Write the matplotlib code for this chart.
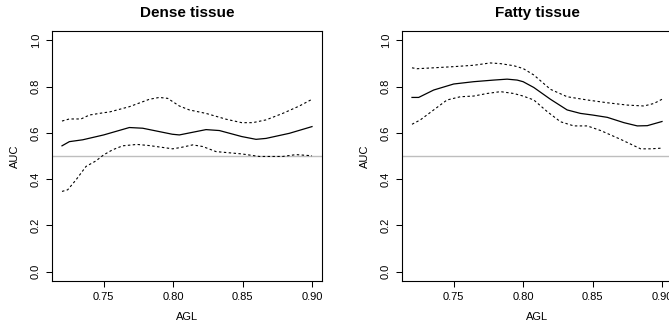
import matplotlib
matplotlib.use("Agg")
import matplotlib.pyplot as plt

plt.rcParams['font.family'] = ['Liberation Sans', 'DejaVu Sans']

# ---- Dense tissue ----
dense_x_mid = [0.72, 0.7253, 0.7349, 0.75, 0.7685, 0.7781, 0.7994, 0.8045, 0.8237, 0.8333,
               0.8494, 0.8597, 0.8669, 0.8837, 0.90]
dense_mid = [0.544, 0.562, 0.570, 0.591, 0.623, 0.620, 0.594, 0.591, 0.614, 0.610,
             0.584, 0.572, 0.576, 0.598, 0.627]
dense_x_up = [0.72, 0.7253, 0.7337, 0.7397, 0.75, 0.7541, 0.7685, 0.7829, 0.7901, 0.7961,
              0.8045, 0.8117, 0.8237, 0.8381, 0.8494, 0.8573, 0.8669, 0.8789, 0.8909, 0.90]
dense_up = [0.651, 0.660, 0.660, 0.677, 0.687, 0.690, 0.713, 0.745, 0.753, 0.749,
            0.716, 0.699, 0.684, 0.659, 0.644, 0.644, 0.656, 0.684, 0.716, 0.745]
dense_x_lo = [0.72, 0.7241, 0.7301, 0.7373, 0.7445, 0.75, 0.7565, 0.7637, 0.774, 0.7829,
              0.7997, 0.8057, 0.8141, 0.8213, 0.8309, 0.8494, 0.8621, 0.8789, 0.8885, 0.90]
dense_lo = [0.347, 0.354, 0.397, 0.455, 0.479, 0.505, 0.527, 0.544, 0.550, 0.545,
            0.531, 0.537, 0.548, 0.541, 0.519, 0.509, 0.498, 0.498, 0.506, 0.501]

# ---- Fatty tissue ----
fatty_x_mid = [0.72, 0.7248, 0.7356, 0.75, 0.7644, 0.7788, 0.7885, 0.7957, 0.80, 0.8077,
               0.8197, 0.8317, 0.8413, 0.85, 0.8606, 0.8726, 0.8822, 0.8894, 0.90]
fatty_mid = [0.753, 0.753, 0.785, 0.811, 0.821, 0.828, 0.832, 0.828, 0.821, 0.796,
             0.745, 0.699, 0.684, 0.677, 0.667, 0.644, 0.630, 0.631, 0.649]
fatty_x_up = [0.72, 0.7236, 0.7356, 0.75, 0.7644, 0.7764, 0.7837, 0.7933, 0.80, 0.8077,
              0.8197, 0.8317, 0.8462, 0.8606, 0.875, 0.887, 0.8942, 0.90]
fatty_up = [0.881, 0.877, 0.881, 0.886, 0.892, 0.902, 0.899, 0.890, 0.878, 0.850,
            0.788, 0.756, 0.742, 0.730, 0.720, 0.716, 0.727, 0.745]
fatty_x_lo = [0.72, 0.726, 0.7356, 0.7452, 0.7548, 0.7644, 0.774, 0.7837, 0.7933, 0.80,
              0.8077, 0.8173, 0.8269, 0.8365, 0.8462, 0.8558, 0.8702, 0.8846, 0.8918, 0.90]
fatty_lo = [0.637, 0.656, 0.699, 0.742, 0.756, 0.759, 0.770, 0.778, 0.770, 0.759,
            0.742, 0.692, 0.648, 0.630, 0.630, 0.610, 0.572, 0.531, 0.531, 0.534]

titles = ["Dense tissue", "Fatty tissue"]
xticks = [0.75, 0.80, 0.85, 0.90]
xtick_labels = ["0.75", "0.80", "0.85", "0.90"]
yticks = [0.0, 0.2, 0.4, 0.6, 0.8, 1.0]
ytick_labels = ["0.0", "0.2", "0.4", "0.6", "0.8", "1.0"]
ref_level = 0.5

W, H = 669, 324
fig = plt.figure(figsize=(W / 100, H / 100), dpi=100)

panels = [
    (52, (dense_x_mid, dense_mid), (dense_x_up, dense_up), (dense_x_lo, dense_lo)),
    (402, (fatty_x_mid, fatty_mid), (fatty_x_up, fatty_up), (fatty_x_lo, fatty_lo)),
]

for (left, mid, up, lo), title in zip(panels, titles):
    ax = fig.add_axes([left / W, 1 - 281 / H, 270 / W, 250 / H])
    ax.axhline(ref_level, color="#bebebe", lw=1.0, zorder=1)
    ax.plot(mid[0], mid[1], color="black", lw=0.9, zorder=3)
    for xs, ys in (up, lo):
        ax.plot(xs, ys, color="black", lw=0.8, linestyle=(0, (2.2, 2.2)), zorder=3)
    ax.set_xlim(0.7128, 0.9072)
    ax.set_ylim(-0.04, 1.04)
    ax.set_xticks(xticks)
    ax.set_xticklabels(xtick_labels)
    ax.set_yticks(yticks)
    ax.set_yticklabels(ytick_labels, rotation=90, va="center")
    ax.tick_params(axis="both", labelsize=8, length=4, width=0.75, pad=4, color="black")
    for s in ax.spines.values():
        s.set_linewidth(0.8)
        s.set_color("black")
    ax.set_title(title, fontsize=11, fontweight="bold", pad=10)
    ax.set_xlabel("AGL", fontsize=8, labelpad=7)
    ax.set_ylabel("AUC", fontsize=8, labelpad=8)

fig.savefig("out.png", dpi=100)
